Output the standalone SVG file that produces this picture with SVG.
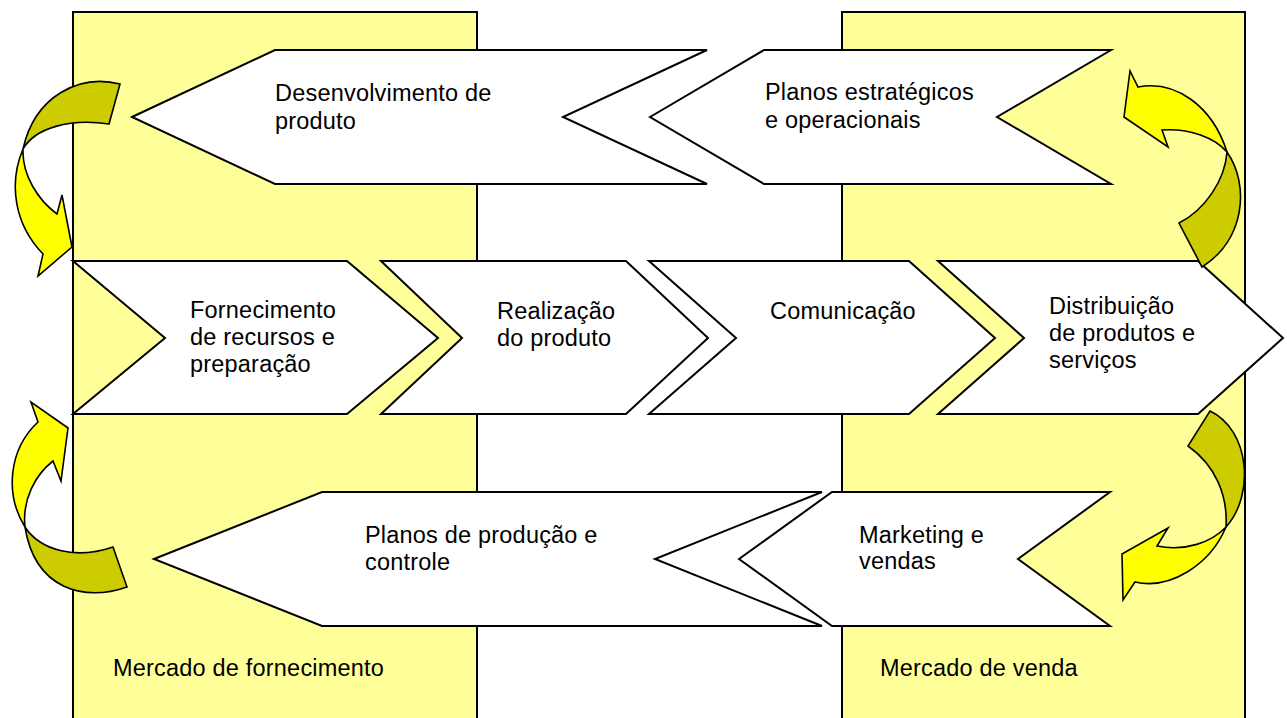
<svg xmlns="http://www.w3.org/2000/svg" width="1287" height="718" viewBox="0 0 1287 718">
<style>
.mkt{fill:#FFFF99;stroke:#000;stroke-width:2}
.box{fill:#FFFFFF;stroke:#000;stroke-width:2;stroke-linejoin:miter}
.dark{fill:#CCCC00;stroke:#000;stroke-width:1.6;stroke-linejoin:miter}
.lite{fill:#FFFF00;stroke:#000;stroke-width:1.6;stroke-linejoin:miter}
text{font-family:"Liberation Sans",Arial,sans-serif;font-size:23.5px;letter-spacing:0.2px;fill:#000}
</style>
<rect width="1287" height="718" fill="#FFFFFF"/>
<g id="market-supply">
<rect class="mkt" x="73" y="12" width="404" height="710"/>
<text x="113" y="676">Mercado de fornecimento</text>
</g>
<g id="market-sales">
<rect class="mkt" x="842" y="12" width="403" height="710"/>
<text x="880" y="676">Mercado de venda</text>
</g>
<g id="desenvolvimento">
<path class="box" d="M132,117 L275,50 L707,50 L563,117 L707,184 L275,184 Z"/>
<text x="275" y="101">Desenvolvimento de</text>
<text x="275" y="129">produto</text>
</g>
<g id="planos-estrategicos">
<path class="box" d="M650,117 L764,50 L1111,50 L997,117 L1111,184 L764,184 Z"/>
<text x="765" y="100">Planos estratégicos</text>
<text x="765" y="128">e operacionais</text>
</g>
<g id="fornecimento">
<path class="box" d="M73,261 L347,261 L438,338 L347,414 L73,414 L165,338 Z"/>
<text x="190" y="318">Fornecimento</text>
<text x="190" y="345">de recursos e</text>
<text x="190" y="372">preparação</text>
</g>
<g id="realizacao">
<path class="box" d="M381,261 L626,261 L708,338 L626,414 L381,414 L462,338 Z"/>
<text x="497" y="319">Realização</text>
<text x="497" y="346">do produto</text>
</g>
<g id="comunicacao">
<path class="box" d="M649,261 L909,261 L995,338 L909,414 L649,414 L736,338 Z"/>
<text x="770" y="319">Comunicação</text>
</g>
<g id="distribuicao">
<path class="box" d="M938,261 L1198,261 L1283,338 L1198,414 L938,414 L1024,338 Z"/>
<text x="1049" y="314">Distribuição</text>
<text x="1049" y="341">de produtos e</text>
<text x="1049" y="368">serviços</text>
</g>
<g id="planos-producao">
<path class="box" d="M154,559 L322,492 L822,492 L655,559 L822,626 L322,626 Z"/>
<text x="365" y="543">Planos de produção e</text>
<text x="365" y="570">controle</text>
</g>
<g id="marketing">
<path class="box" d="M739,559 L832,492 L1110,492 L1018,559 L1110,626 L832,626 Z"/>
<text x="859" y="543">Marketing e</text>
<text x="859" y="569">vendas</text>
</g>
<g id="connectors">
<g id="loop-left-top">
<path class="dark" d="M120,84 C80,74 35,95 23,149 C35,128 70,118 109,124 Z"/>
<path class="lite" d="M23,149 C8,185 15,225 43,254 L38,276 L72,247 L62,195 L57,214 C38,200 22,175 23,149 Z"/>
</g>
<g id="loop-left-bottom">
<path class="dark" d="M25,527 C35,590 85,602 127,587 L113,547 C75,560 40,550 25,527 Z"/>
<path class="lite" d="M25,527 C5,495 8,450 38,422 L31,402 L68,428 L61,481 L53,461 C35,475 22,500 25,527 Z"/>
</g>
<g id="loop-right-top">
<path class="dark" d="M1227,152 C1250,185 1245,240 1202,267 L1179,223 C1205,210 1225,180 1227,152 Z"/>
<path class="lite" d="M1227,152 C1212,105 1175,80 1138,87 L1130,71 L1124,117 L1168,147 L1162,130 C1190,128 1215,138 1227,152 Z"/>
</g>
<g id="loop-right-bottom">
<path class="dark" d="M1210,411 C1250,430 1255,495 1226,527 C1228,495 1215,465 1188,446 Z"/>
<path class="lite" d="M1226,527 C1210,565 1170,590 1135,582 L1123,600 L1122,554 L1168,528 L1157,546 C1185,552 1212,542 1226,527 Z"/>
</g>
</g>
</svg>
